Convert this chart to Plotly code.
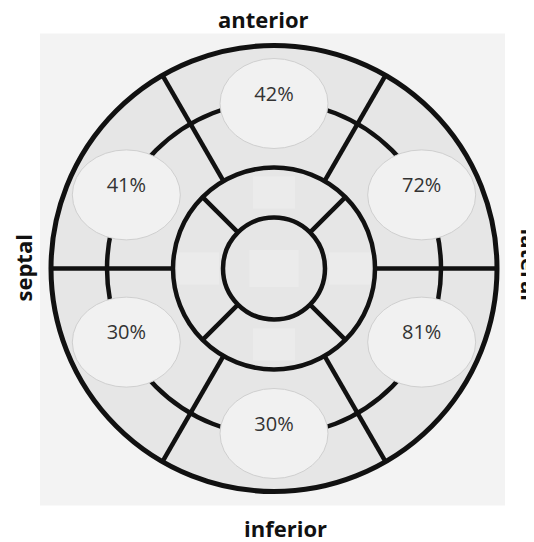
import math
import plotly.graph_objects as go

# ---- data ----
segments = ["anterior", "anterolateral", "inferolateral", "inferior", "inferoseptal", "anteroseptal"]
values = [42, 72, 81, 30, 30, 41]
wall_labels = ["anterior", "lateral", "inferior", "septal"]

# ---- geometry (px-like units, centre at 0,0) ----
R_OUT, R_SPLIT, R_MID, R_IN = 223, 167, 101, 51
R_OVAL = 165
OVAL_RX, OVAL_RY = 54, 45
SIDE_PULL = 3.5   # side label ovals sit slightly nearer the horizontal axis
LINE = dict(color="#111111", width=4.5)

# page body has an 8px margin -> figure starts at (8,8)
BODY = 8
CX, CY = 274, 268.5  # centre in page pixels

n = len(segments)


def oval_angle(i):
    a = 90 - 360 / n * i
    s = math.sin(math.radians(a))
    if abs(s) < 0.99:
        a = a - SIDE_PULL * (1 if math.cos(math.radians(a)) > 0 else -1) * (1 if s > 0 else -1)
    return math.radians(a)


fig = go.Figure()
shapes = []

shapes.append(dict(type="rect", xref="x", yref="y", x0=-234, x1=231, y0=-237, y1=235,
                   fillcolor="#f3f3f3", line=dict(width=0), layer="below"))
shapes.append(dict(type="circle", xref="x", yref="y", x0=-R_OUT, x1=R_OUT, y0=-R_OUT, y1=R_OUT,
                   fillcolor="#e6e6e6", line=dict(width=0), layer="below"))
shapes.append(dict(type="circle", xref="x", yref="y", x0=-R_SPLIT, x1=R_SPLIT, y0=-R_SPLIT, y1=R_SPLIT,
                   fillcolor="rgba(0,0,0,0)", line=LINE, layer="below"))

for i, v in enumerate(values):
    a = oval_angle(i)
    cx, cy = R_OVAL * math.cos(a), R_OVAL * math.sin(a)
    shapes.append(dict(type="circle", xref="x", yref="y",
                       x0=cx - OVAL_RX, x1=cx + OVAL_RX, y0=cy - OVAL_RY, y1=cy + OVAL_RY,
                       fillcolor="#f1f1f1", line=dict(color="#cfcfcf", width=1), layer="below"))

for k in range(n):
    a = math.radians(360 / n * k)
    shapes.append(dict(type="line", xref="x", yref="y",
                       x0=R_MID * math.cos(a), y0=R_MID * math.sin(a),
                       x1=R_OUT * math.cos(a), y1=R_OUT * math.sin(a),
                       line=LINE, layer="below"))
for k in range(4):
    a = math.radians(45 + 90 * k)
    shapes.append(dict(type="line", xref="x", yref="y",
                       x0=R_IN * math.cos(a), y0=R_IN * math.sin(a),
                       x1=R_MID * math.cos(a), y1=R_MID * math.sin(a),
                       line=LINE, layer="below"))
for (px, py, w, h) in [(0, 0, 49, 37)] + [
        (76 * math.cos(math.radians(90 * k)), 76 * math.sin(math.radians(90 * k)), 42, 32) for k in range(4)]:
    shapes.append(dict(type="rect", xref="x", yref="y", x0=px - w / 2, x1=px + w / 2,
                       y0=py - h / 2, y1=py + h / 2, fillcolor="#ebebeb", line=dict(width=0), layer="below"))

for r, w in [(R_OUT, 5), (R_MID, 4.5), (R_IN, 4.5)]:
    shapes.append(dict(type="circle", xref="x", yref="y", x0=-r, x1=r, y0=-r, y1=r,
                       fillcolor="rgba(0,0,0,0)", line=dict(color="#111111", width=w), layer="below"))

xs, ys, txt = [], [], []
for i, v in enumerate(values):
    a = oval_angle(i)
    xs.append(R_OVAL * math.cos(a))
    ys.append(R_OVAL * math.sin(a) + 8)
    txt.append(f"{v}%")
fig.add_trace(go.Scatter(x=xs, y=ys, mode="text", text=txt,
                         textfont=dict(family="Open Sans", size=20, color="#333333"),
                         hoverinfo="skip", showlegend=False))

lab_font = dict(family="Open Sans", size=22, color="#111111")
ann = [
    dict(x=-11, y=250, text="<b>%s</b>" % wall_labels[0], textangle=0),
    dict(x=256, y=4, text="<b>%s</b>" % wall_labels[1], textangle=90),
    dict(x=11, y=-259, text="<b>%s</b>" % wall_labels[2], textangle=0),
    dict(x=-252, y=0, text="<b>%s</b>" % wall_labels[3], textangle=-90),
]
for a in ann:
    a.update(xref="x", yref="y", showarrow=False, font=lab_font)

W, H = 534 - BODY, 542 - BODY
fig.update_layout(
    width=W, height=H, margin=dict(l=0, r=0, t=0, b=0),
    paper_bgcolor="white", plot_bgcolor="white",
    shapes=shapes, annotations=ann,
    xaxis=dict(range=[BODY - CX, 534 - CX], visible=False, fixedrange=True),
    yaxis=dict(range=[CY - 542, CY - BODY], visible=False, fixedrange=True),
)
fig.write_html("out.html")
